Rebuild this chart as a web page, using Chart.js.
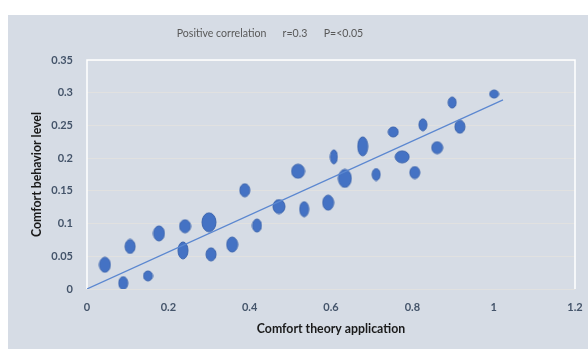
<!DOCTYPE html>
<html>
<head>
<meta charset="utf-8">
<script src="https://cdn.jsdelivr.net/npm/chart.js@4/dist/chart.umd.min.js"></script>
<style>
    body { margin: 0; background: #ffffff; }
    #panel { position: absolute; left: 8px; top: 15px; width: 580px; height: 334px; background: #d6dce5; }
</style>
</head>
<body>
<div id="panel"><canvas id="scatterChart" width="580" height="334"></canvas></div>
<script>
// Comfort theory application vs comfort behavior level
const chartTitle = 'Positive correlation      r=0.3      P=<0.05';
const xTitle = 'Comfort theory application';
const yTitle = 'Comfort behavior level';

const theoryApplication = [0.044, 0.089, 0.106, 0.150, 0.177, 0.241, 0.236, 0.300, 0.305, 0.357,
    0.388, 0.418, 0.472, 0.519, 0.534, 0.593, 0.607, 0.634, 0.678, 0.711,
    0.753, 0.775, 0.806, 0.826, 0.861, 0.898, 0.917, 1.001];
const behaviorLevel = [0.037, 0.009, 0.065, 0.020, 0.085, 0.096, 0.059, 0.102, 0.053, 0.068,
    0.151, 0.097, 0.126, 0.180, 0.122, 0.132, 0.202, 0.169, 0.218, 0.175,
    0.240, 0.202, 0.178, 0.251, 0.216, 0.285, 0.248, 0.298];

// trend line
const trendX = [0, 1.023];
const trendY = [0, 0.289];

const xTickLabels = ['0', '0.2', '0.4', '0.6', '0.8', '1', '1.2'];
const yTickLabels = ['0', '0.05', '0.1', '0.15', '0.2', '0.25', '0.3', '0.35'];

// marker shapes (width, height in px) - the markers are drawn as ellipses
const markerShapes = [[11, 15], [9, 13], [10, 14], [9, 10], [11, 15], [11, 13], [10, 17], [14, 19], [10, 13], [11, 15],
    [10, 13], [9, 13], [12, 14], [13, 14], [9, 15], [11, 15], [7, 14], [13, 18], [10, 19], [8, 12],
    [10, 10], [14, 12], [10, 12], [8, 12], [11, 12], [8, 11], [10, 13], [9, 8]];

function ellipseMarker(w, h) {
    const c = document.createElement('canvas');
    c.width = w + 2;
    c.height = h + 2;
    const g = c.getContext('2d');
    g.beginPath();
    g.ellipse(c.width / 2, c.height / 2, w / 2, h / 2, 0, 0, Math.PI * 2);
    g.fillStyle = '#4472c4';
    g.fill();
    g.lineWidth = 1;
    g.strokeStyle = '#3a63ad';
    g.stroke();
    return c;
}

const points = theoryApplication.map((x, i) => ({ x: x, y: behaviorLevel[i] }));
const trendPoints = trendX.map((x, i) => ({ x: x, y: trendY[i] }));
const markers = markerShapes.map(s => ellipseMarker(s[0], s[1]));

// white plot border + title text
const plotDecor = {
    id: 'plotDecor',
    beforeDatasetsDraw(chart) {
        const a = chart.chartArea;
        const ctx = chart.ctx;
        ctx.save();
        ctx.strokeStyle = '#ffffff';
        ctx.lineWidth = 1.5;
        ctx.beginPath();
        ctx.moveTo(a.left, a.bottom);
        ctx.lineTo(a.left, a.top);
        ctx.lineTo(a.right, a.top);
        ctx.lineTo(a.right, a.bottom);
        ctx.stroke();
        ctx.restore();
    },
    afterDraw(chart) {
        const ctx = chart.ctx;
        ctx.save();
        ctx.font = '10.6px Lato, "Open Sans", sans-serif';
        ctx.fillStyle = '#595959';
        ctx.textAlign = 'center';
        ctx.textBaseline = 'middle';
        ctx.fillText(chartTitle, 262, 19);
        ctx.restore();
    }
};

const tickFont = { family: 'Lato, "Open Sans", sans-serif', size: 11, weight: 'bold' };
const titleFont = { family: 'Lato, "Open Sans", sans-serif', size: 12.3, weight: 'bold' };

new Chart(document.getElementById('scatterChart'), {
    type: 'scatter',
    data: {
        datasets: [{
            label: 'Comfort',
            data: points,
            pointStyle: markers,
            pointRadius: 8,
            order: 2
        }, {
            type: 'line',
            label: 'Trend',
            data: trendPoints,
            borderColor: '#5b87d0',
            borderWidth: 1.2,
            pointRadius: 0,
            fill: false,
            order: 1
        }]
    },
    options: {
        responsive: false,
        animation: false,
        layout: { padding: { top: 45, right: 0, left: 0, bottom: 0 } },
        plugins: {
            legend: { display: false },
            tooltip: { enabled: false }
        },
        scales: {
            x: {
                type: 'linear',
                min: 0,
                max: 1.2,
                ticks: {
                    stepSize: 0.2,
                    padding: 12,
                    color: '#44546a',
                    font: tickFont,
                    callback: (v, i) => xTickLabels[i]
                },
                grid: { display: false, drawTicks: false },
                border: { display: false },
                title: {
                    display: true,
                    text: xTitle,
                    color: '#1a1a1a',
                    font: titleFont,
                    padding: { top: 4, bottom: 13 }
                },
                afterFit: scale => {
                    scale.height = 60;
                    scale.paddingRight = 13;
                    scale.paddingLeft = 0;
                }
            },
            y: {
                min: 0,
                max: 0.35,
                ticks: {
                    stepSize: 0.05,
                    padding: 14,
                    color: '#44546a',
                    font: tickFont,
                    callback: (v, i) => yTickLabels[i]
                },
                grid: { color: '#e1e1e0', lineWidth: 1, drawTicks: false },
                border: { display: false },
                title: {
                    display: true,
                    text: yTitle,
                    color: '#1a1a1a',
                    font: titleFont,
                    padding: { top: 22, bottom: 4 }
                },
                afterFit: scale => { scale.width = 79; }
            }
        }
    },
    plugins: [plotDecor]
});
</script>
</body>
</html>
